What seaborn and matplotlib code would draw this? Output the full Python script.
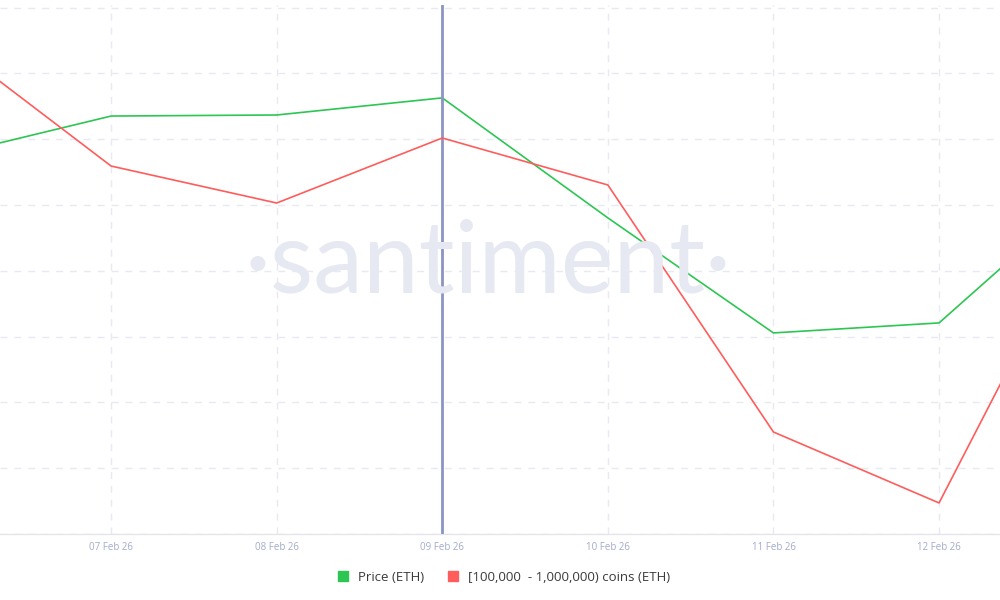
import pandas as pd
import seaborn as sns
import matplotlib.pyplot as plt
import matplotlib.dates as mdates
from matplotlib.lines import Line2D

# Daily values (first and last day fall outside the view)
dates = pd.to_datetime(["2026-02-06", "2026-02-07", "2026-02-08", "2026-02-09",
                        "2026-02-10", "2026-02-11", "2026-02-12", "2026-02-13"])
price = [2143.6, 2158.8, 2159.2, 2165.7, 2120.1, 2076.4, 2080.2, 2136.0]
holdings = [20375400, 20279600, 20251500, 20300900, 20265200, 20077500, 20023600, 20267500]
labels = ["Price (ETH)", "[100,000  - 1,000,000) coins (ETH)"]
colors = ["#2DC653", "#FF5C5C"]
highlight = pd.Timestamp("2026-02-09")

df = pd.DataFrame({"date": dates, "price": price, "holdings": holdings})

sns.set_style("white")
plt.rcParams["font.family"] = ["Open Sans", "DejaVu Sans"]

fig = plt.figure(figsize=(10, 6), dpi=100)
ax = fig.add_axes([0, 0.11, 1, 0.8817])
ax2 = ax.twinx()

# watermark
fig.text(0.488, 0.512, "·santiment·", ha="center", va="baseline", fontsize=72,
         color="#E6E8F2", family=["Lato", "DejaVu Sans"], zorder=0)

sns.lineplot(data=df, x="date", y="price", ax=ax, color=colors[0], linewidth=1.2)
sns.lineplot(data=df, x="date", y="holdings", ax=ax2, color=colors[1], linewidth=1.2)

ax.set_xlim(pd.Timestamp("2026-02-06 07:54"), pd.Timestamp("2026-02-12 08:50"))
ax.set_ylim(2000, 2201)
ax2.set_ylim(20000000, 20401976)
ax.set_yticks([2000 + 25 * i for i in range(9)])

ax.xaxis.set_major_locator(mdates.DayLocator())
ax.xaxis.set_major_formatter(mdates.DateFormatter("%d %b %y"))
ax.tick_params(axis="x", length=0, labelsize=7, labelcolor="#A3ABCB", pad=6)
ax.tick_params(axis="y", left=False, labelleft=False)
ax2.tick_params(axis="y", right=False, labelright=False)
ax.set_xlabel("")
ax.set_ylabel("")
ax2.set_ylabel("")

ax.grid(True, linestyle=(0, (5, 5)), color="#E8EAF3", linewidth=1)
for a in (ax, ax2):
    for side in ["top", "left", "right"]:
        a.spines[side].set_visible(False)
    a.spines["bottom"].set_color("#E3E3E8")
    a.patch.set_visible(False)

ax.axvline(highlight, color="#8C94C2", linewidth=2, zorder=5)

handles = [Line2D([], [], marker="s", linestyle="", color=c, markersize=6.5) for c in colors]
fig.legend(handles, labels, loc="center", bbox_to_anchor=(0.5, 0.038), ncol=2,
           frameon=False, fontsize=9.5, handletextpad=0.1, columnspacing=1.2,
           labelcolor="#3A3A3A")

fig.savefig("out.png", dpi=100)
